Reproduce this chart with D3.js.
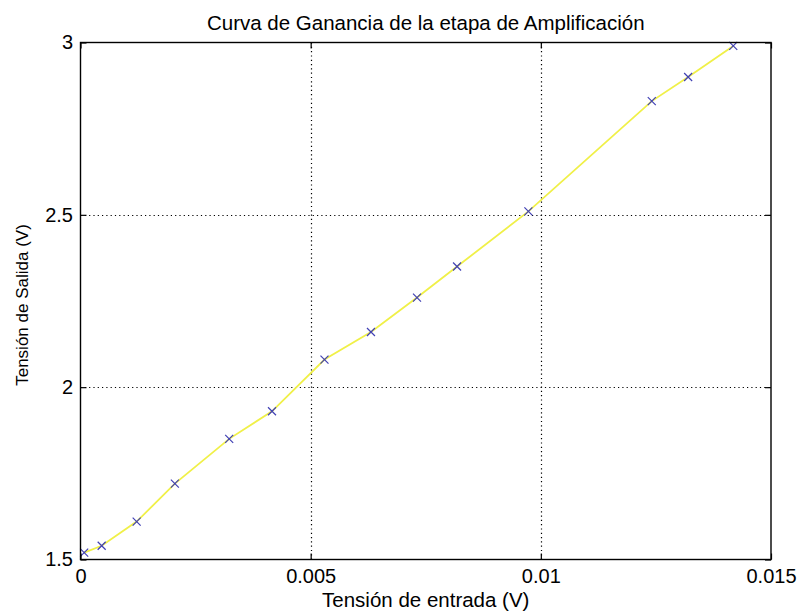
<!DOCTYPE html>
<html><head><meta charset="utf-8">
<script src="https://cdn.jsdelivr.net/npm/d3@7"></script>
<style>body{margin:0;background:#fff}svg{display:block}text{font-family:"Liberation Sans",Arial,sans-serif;fill:#000}</style>
</head><body>
<svg id="c" width="800" height="612"></svg>
<script>
const vin  = [0.00008,0.00046,0.00122,0.00205,0.00323,0.00416,0.0053,0.00631,0.00731,0.00818,0.00973,0.01241,0.0132,0.01418];
const vout = [1.52,1.54,1.61,1.72,1.85,1.93,2.08,2.16,2.26,2.35,2.51,2.83,2.90,2.99];
const xTicks = [0,0.005,0.01,0.015];
const xTickLabels = ["0","0.005","0.01","0.015"];
const yTicks = [1.5,2,2.5,3];
const yTickLabels = ["1.5","2","2.5","3"];
const title = "Curva de Ganancia de la etapa de Amplificación";
const xLabel = "Tensión de entrada (V)";
const yLabel = "Tensión de Salida (V)";

const L=80.5,R=771,T=42.5,B=559.5;
const svg=d3.select("#c");
const x=d3.scaleLinear().domain([0,0.015]).range([L,R]);
const y=d3.scaleLinear().domain([1.5,3]).range([B,T]);

// grid
const g=svg.append("g");
g.selectAll("line.gx").data(xTicks.slice(1,-1)).enter().append("line")
 .attr("x1",d=>Math.round(x(d))+0.5).attr("x2",d=>Math.round(x(d))+0.5).attr("y1",T).attr("y2",B)
 .attr("stroke","#000").attr("stroke-width",1.2).attr("stroke-dasharray","1.2,3.1");
g.selectAll("line.gy").data(yTicks.slice(1,-1)).enter().append("line")
 .attr("y1",d=>Math.round(y(d))+0.5).attr("y2",d=>Math.round(y(d))+0.5).attr("x1",L).attr("x2",R)
 .attr("stroke","#000").attr("stroke-width",1.2).attr("stroke-dasharray","1.2,3.1");

// line
const data=vin.map((v,i)=>[v,vout[i]]);
svg.append("path").datum(data)
 .attr("d",d3.line().x(d=>x(d[0])).y(d=>y(d[1])).curve(d3.curveLinear))
 .attr("fill","none").attr("stroke","#f0f048").attr("stroke-width",1.8);

// markers
const s=4;
const m=svg.append("g").attr("stroke","#4040b4").attr("stroke-width",1.2);
m.selectAll("path").data(data).enter().append("path")
 .attr("d",d=>{const cx=x(d[0]),cy=y(d[1]);return `M${cx-s},${cy-s}L${cx+s},${cy+s}M${cx-s},${cy+s}L${cx+s},${cy-s}`;});

// axes (inward ticks, box)
const tl=6;
const ax=svg.append("g");
ax.append("g").attr("transform",`translate(0,${B})`)
 .call(d3.axisBottom(x).tickValues(xTicks).tickFormat((d,i)=>xTickLabels[i]).tickSizeInner(-tl).tickSizeOuter(0).tickPadding(9))
 .call(a=>a.select(".domain").remove());
ax.append("g").attr("transform",`translate(0,${T})`)
 .call(d3.axisTop(x).tickValues(xTicks).tickFormat("").tickSizeInner(-tl).tickSizeOuter(0))
 .call(a=>a.select(".domain").remove());
ax.append("g").attr("transform",`translate(${L},0)`)
 .call(d3.axisLeft(y).tickValues(yTicks).tickFormat((d,i)=>yTickLabels[i]).tickSizeInner(-tl).tickSizeOuter(0).tickPadding(7.5))
 .call(a=>a.select(".domain").remove());
ax.append("g").attr("transform",`translate(${R},0)`)
 .call(d3.axisRight(y).tickValues(yTicks).tickFormat("").tickSizeInner(-tl).tickSizeOuter(0))
 .call(a=>a.select(".domain").remove());
ax.selectAll("text").attr("font-family","Liberation Sans, Arial, sans-serif").attr("font-size",20)
 .attr("fill","#222");
ax.selectAll(".tick line").attr("stroke-width",1.2);
svg.append("rect").attr("x",L).attr("y",T).attr("width",R-L).attr("height",B-T)
 .attr("fill","none").attr("stroke","#000").attr("stroke-width",1.4);

svg.append("text").attr("x",(L+R)/2).attr("y",30).attr("text-anchor","middle")
 .attr("font-size",20.5).attr("fill","#222").text(title);
svg.append("text").attr("x",(L+R)/2).attr("y",607).attr("text-anchor","middle")
 .attr("font-size",20.5).attr("fill","#222").text(xLabel);
svg.append("text").attr("transform",`translate(28,${(T+B)/2+4}) rotate(-90)`).attr("text-anchor","middle")
 .attr("font-size",17).attr("fill","#222").text(yLabel);
</script>
</body></html>
